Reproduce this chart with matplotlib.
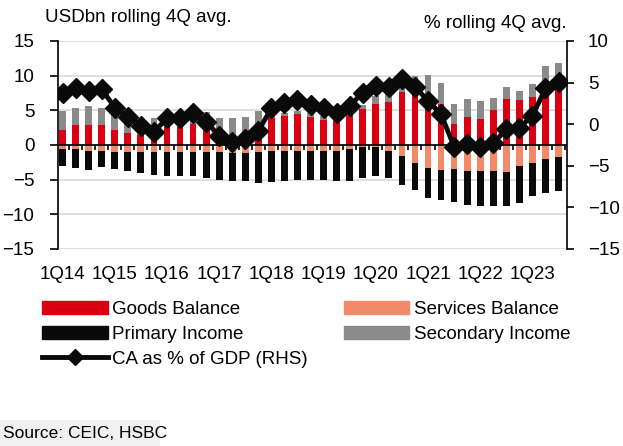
import numpy as np
import matplotlib.pyplot as plt
from matplotlib.patches import Patch, Rectangle
from matplotlib.lines import Line2D

plt.rcParams['font.family'] = ['Liberation Sans', 'DejaVu Sans']
plt.rcParams['font.size'] = 13.5

# quarterly data, 1Q14 - 3Q23 (USDbn, rolling 4Q avg)
quarters = [f'{q}Q{y}' for y in range(14, 24) for q in range(1, 5)][:39]
tick_labels = ['1Q14', '1Q15', '1Q16', '1Q17', '1Q18', '1Q19', '1Q20', '1Q21', '1Q22', '1Q23']

goods = [2.2, 2.95, 2.95, 2.95, 2.2, 1.75, 1.4, 1.6, 2.6, 2.6, 3.0, 2.4, 1.2, 0.6, 0.6, 1.1,
         3.9, 4.2, 4.5, 4.0, 3.65, 3.4, 4.3, 5.2, 5.9, 6.15, 7.7, 7.3, 5.6, 5.9, 3.0, 4.0,
         3.8, 5.0, 6.65, 6.45, 6.9, 8.1, 8.6]
secondary = [2.7, 2.45, 2.65, 2.45, 2.2, 1.55, 1.8, 2.3, 1.7, 1.7, 1.7, 2.4, 2.65, 3.25, 3.5, 3.8,
             1.6, 0.4, 0.4, 0.6, 0.55, 0.6, 0.4, 0.6, 1.1, 1.15, 0.9, 2.7, 4.5, 3.1, 2.9, 2.6,
             2.6, 1.85, 1.7, 1.4, 1.9, 3.25, 3.2]
services = [-0.6, -0.6, -0.9, -0.9, -1.05, -1.05, -1.05, -1.05, -1.05, -1.05, -1.05, -1.05,
            -1.05, -1.1, -1.1, -1.0, -0.9, -0.9, -0.9, -0.9, -0.85, -0.8, -0.55, -0.35, -0.35,
            -0.8, -1.55, -2.6, -3.35, -3.6, -3.5, -3.8, -3.8, -3.8, -3.85, -3.0, -2.6, -2.05, -1.8]
primary = [-2.4, -2.65, -2.65, -2.3, -2.45, -2.75, -3.0, -3.25, -3.35, -3.45, -3.45, -3.75,
           -3.95, -4.1, -4.1, -4.5, -4.4, -4.25, -4.1, -4.1, -4.15, -4.45, -4.7, -4.35, -4.15,
           -3.95, -4.15, -3.85, -4.25, -4.35, -4.7, -4.85, -4.95, -4.95, -4.9, -5.3, -4.8, -4.9, -4.9]
# CA as % of GDP (RHS)
ca_gdp = [3.7, 4.4, 4.0, 4.2, 2.0, 0.9, -0.2, -0.9, 0.7, 0.7, 1.3, 0.3, -1.4, -2.1, -1.8, -0.8,
          1.9, 2.6, 2.9, 2.3, 1.9, 1.3, 2.2, 3.8, 4.6, 4.5, 5.4, 4.5, 2.8, 1.2, -2.7, -2.4,
          -2.7, -2.3, -0.6, -0.4, 1.0, 4.3, 5.1]

RED = '#DB0011'
SALMON = '#F08A68'
BLACK = '#0A0A0A'
GRAY = '#8A8A8A'

W, H = 623, 446
fig = plt.figure(figsize=(W / 100, H / 100), dpi=100)
ax = fig.add_axes([58 / W, 1 - 249 / H, 509 / W, 208 / H])

x = np.arange(len(quarters))
bw = 0.52
ax.bar(x, goods, bw, color=RED, zorder=2)
ax.bar(x, secondary, bw, bottom=goods, color=GRAY, zorder=2)
ax.bar(x, services, bw, color=SALMON, zorder=2)
ax.bar(x, primary, bw, bottom=services, color=BLACK, zorder=2)

ax.set_xlim(-0.35, len(quarters) - 0.35)
ax.set_ylim(-15, 15)
ax.set_yticks(range(-15, 16, 5))
ax.yaxis.grid(True, color='#d9d9d9', lw=1.2, zorder=0)
ax.set_axisbelow(True)
ax.axhline(0, color='black', lw=1.2, zorder=3)
ax.vlines(np.arange(-0.5, len(quarters)), -0.75, 0, color='black', lw=1.2, zorder=3)
ax.set_xticks(x[::4])
ax.set_xticklabels(tick_labels)
ax.tick_params(axis='x', length=0, pad=12)
ax.tick_params(axis='y', length=6, width=1.2, pad=11)
for s in ['top', 'bottom', 'right']:
    ax.spines[s].set_visible(False)
ax.spines['left'].set_linewidth(1.2)

ax2 = ax.twinx()
ax2.plot(x, ca_gdp, color=BLACK, lw=3.5, marker='D', ms=10, zorder=5)
ax2.set_ylim(-15, 10)
ax2.set_yticks(range(-15, 11, 5))
ax2.tick_params(axis='y', length=5, width=1.2, pad=10)
for s in ['top', 'bottom', 'left']:
    ax2.spines[s].set_visible(False)
ax2.spines['right'].set_linewidth(1.2)

fig.text(45 / W, 1 - 18 / H, 'USDbn rolling 4Q avg.', ha='left', va='center')
fig.text(567 / W, 1 - 23 / H, '% rolling 4Q avg.', ha='right', va='center')

handles = [Patch(color=RED), Patch(color=BLACK),
           Line2D([], [], color=BLACK, lw=3.5, marker='D', ms=8),
           Patch(color=SALMON), Patch(color=GRAY)]
labels = ['Goods Balance', 'Primary Income', 'CA as % of GDP (RHS)',
          'Services Balance', 'Secondary Income']
fig.legend(handles, labels, ncol=2, loc='upper left', bbox_to_anchor=(42 / W, 1 - 301 / H),
           frameon=False, handlelength=3.5, handleheight=0.65, handletextpad=0.25,
           labelspacing=0.42, columnspacing=1.9, borderaxespad=0, borderpad=0)

fig.patches.append(Rectangle((0, 0), 160 / W, 26 / H, transform=fig.transFigure,
                             facecolor='#f0f0f0', edgecolor='none'))
fig.text(3 / W, 1 - 433 / H, 'Source: CEIC, HSBC', fontsize=12.5, ha='left', va='center')

fig.savefig('out.png', dpi=100)
